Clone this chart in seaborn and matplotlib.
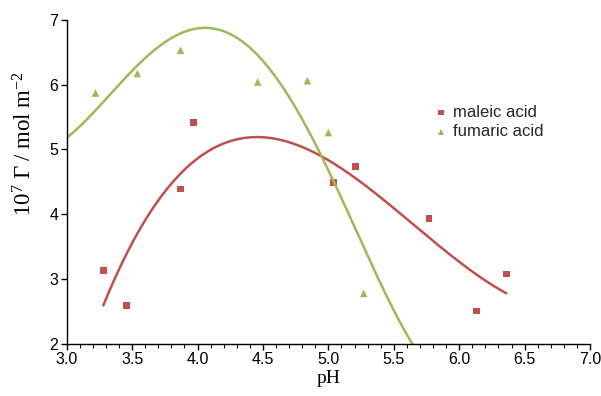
import numpy as np
import matplotlib
matplotlib.use("Agg")
import matplotlib.pyplot as plt
import seaborn as sns
from matplotlib.ticker import MultipleLocator, FormatStrFormatter

maleic_ph = [3.28, 3.46, 3.87, 3.97, 5.04, 5.21, 5.77, 6.13, 6.36]
maleic_g = [3.13, 2.59, 4.39, 5.41, 4.49, 4.74, 3.93, 2.51, 3.08]
fumaric_ph = [3.22, 3.54, 3.87, 4.46, 4.84, 5.00, 5.27]
fumaric_g = [5.87, 6.17, 6.53, 6.04, 6.06, 5.26, 2.78]

# fumaric trend line
fum_curve_ph = [3.00, 3.10, 3.20, 3.36, 3.54, 3.71, 3.87, 3.96, 4.04, 4.13, 4.22,
                4.33, 4.48, 4.63, 4.78, 4.96, 5.09, 5.24, 5.40, 5.64]
fum_curve_g = [5.15, 5.36, 5.58, 5.97, 6.28, 6.56, 6.75, 6.83, 6.87, 6.86, 6.82,
               6.71, 6.46, 6.04, 5.48, 4.86, 4.30, 3.58, 2.96, 2.01]

RED = "#C0504D"
GREEN = "#9BBB59"

sns.set_theme(style="white")
plt.rcParams["font.family"] = ["Liberation Sans", "DejaVu Sans"]
plt.rcParams["mathtext.fontset"] = "custom"
plt.rcParams["mathtext.rm"] = "Liberation Serif"
plt.rcParams["mathtext.it"] = "Liberation Serif:italic"

fig = plt.figure(figsize=(6.01, 3.96), dpi=100)
ax = fig.add_axes([66.7 / 601, 52 / 396, 523.3 / 601, 324.3 / 396])

# polynomial trend lines (as in the original spreadsheet chart)
cm = np.polyfit(maleic_ph, maleic_g, 3)
xm = np.linspace(min(maleic_ph), max(maleic_ph), 200)
cf = np.polyfit(fum_curve_ph, fum_curve_g, 4)
xf = np.linspace(min(fum_curve_ph), 5.75, 300)
sns.lineplot(x=xm, y=np.polyval(cm, xm), ax=ax, color=RED, lw=1.8, legend=False)
sns.lineplot(x=xf, y=np.polyval(cf, xf), ax=ax, color=GREEN, lw=1.8, legend=False)

sns.scatterplot(x=maleic_ph, y=maleic_g, ax=ax, marker="s", s=24, color=RED,
                edgecolor="none", label="maleic acid")
sns.scatterplot(x=fumaric_ph, y=fumaric_g, ax=ax, marker="^", s=30, color=GREEN,
                edgecolor="none", label="fumaric acid")

ax.set_xlim(3.0, 7.0)
ax.set_ylim(2, 7)
ax.xaxis.set_major_locator(MultipleLocator(0.5))
ax.xaxis.set_minor_locator(MultipleLocator(0.1))
ax.yaxis.set_major_locator(MultipleLocator(1))
ax.xaxis.set_major_formatter(FormatStrFormatter("%.1f"))

for s in ["top", "right"]:
    ax.spines[s].set_visible(False)
for s in ["left", "bottom"]:
    ax.spines[s].set_color("black")
    ax.spines[s].set_linewidth(1.0)

ax.tick_params(axis="both", which="major", direction="out", length=4, width=1,
               color="black", labelsize=11.5, pad=2, bottom=True, left=True,
               labelcolor="black")
ax.tick_params(axis="x", which="minor", direction="out", length=3, width=0.8,
               color="black", bottom=True)

ax.set_xlabel("pH", family="Liberation Serif", fontsize=14, labelpad=2, color="black")
ax.set_ylabel(r"$\mathrm{10^{7}}\ \mathit{\Gamma}\ \mathrm{/\ mol\ m^{-2}}$",
              fontsize=16.5, color="black")
ax.yaxis.set_label_coords(-0.058, (344 - 144) / 324.3)

ax.legend(loc="upper left", bbox_to_anchor=(429.3 / 601, 1 - 98 / 396),
          bbox_transform=fig.transFigure, borderaxespad=0, frameon=False,
          fontsize=12, handlelength=0.6, handletextpad=0.4, labelspacing=0.28,
          markerscale=0.8)

fig.savefig("out.png", dpi=100)
